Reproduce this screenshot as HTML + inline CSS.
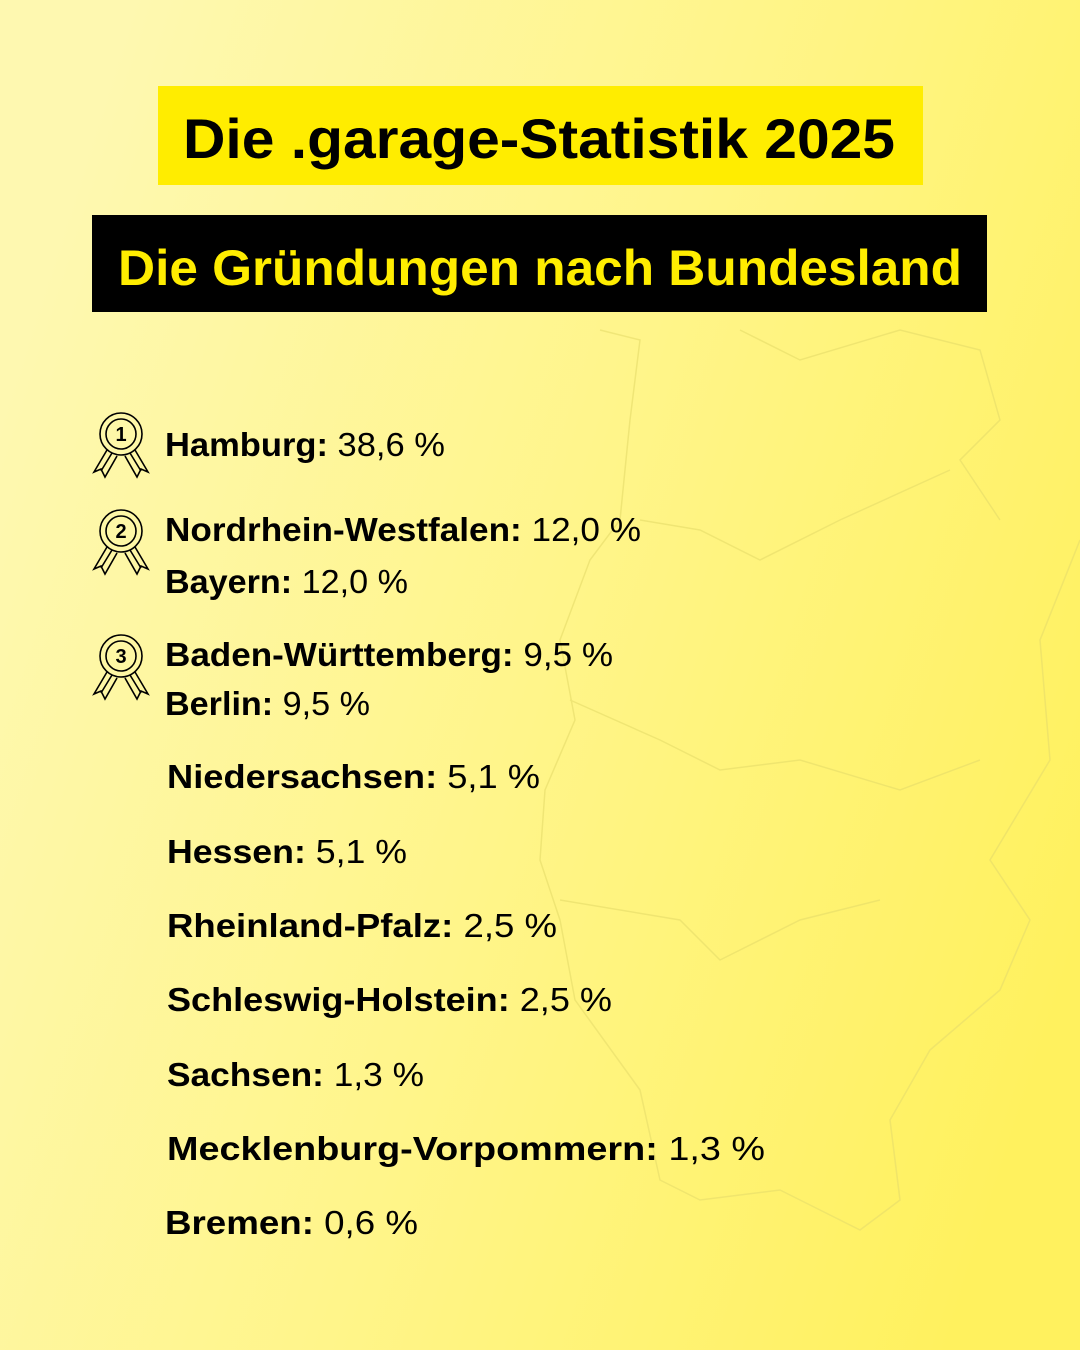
<!DOCTYPE html>
<html><head><meta charset="utf-8"><style>
html,body{margin:0;padding:0;width:1080px;height:1350px;overflow:hidden}
svg{display:block}
text{font-family:"Liberation Sans",sans-serif;fill:#000}
</style></head><body>
<svg width="1080" height="1350" viewBox="0 0 1080 1350" xmlns="http://www.w3.org/2000/svg">
<defs>
<linearGradient id="bg" x1="0" y1="0.3" x2="1" y2="0.7">
<stop offset="0" stop-color="#fef8b0"/>
<stop offset="0.5" stop-color="#fff58a"/>
<stop offset="1" stop-color="#fff15e"/>
</linearGradient>
<g id="medal" fill="none" stroke="#000" stroke-width="1.6">
<circle cx="0" cy="0" r="21"/>
<circle cx="0" cy="0" r="15"/>
<path d="M-14,16 L-27,38 L-20,35 L-16,43 L-4,22"/>
<path d="M14,16 L27,38 L20,35 L16,43 L4,22"/>
<path d="M-9,19 L-20,37 M9,19 L20,37"/>
</g>
</defs>
<rect width="1080" height="1350" fill="url(#bg)"/>
<g fill="none" stroke="#e6dc6a" stroke-width="1.5" opacity="0.6">
<path d="M600,330 L640,340 L630,420 L620,520 L590,560 L560,640 L575,720 L545,790 L540,860 L560,920 L575,1000 L640,1090 L660,1180 L700,1200 L780,1190 L860,1230 L900,1200 L890,1120 L930,1050 L1000,990 L1030,920 L990,860 L1050,760 L1040,640 L1080,540"/>
<path d="M740,330 L800,360 L900,330 L980,350 L1000,420 L960,460 L1000,520"/>
<path d="M640,520 L700,530 L760,560 L840,520 L950,470"/>
<path d="M570,700 L660,740 L720,770 L800,760 L900,790 L980,760"/>
<path d="M560,900 L680,920 L720,960 L800,920 L880,900"/>
</g>
<rect x="158" y="86" width="765" height="99" fill="#ffed00"/>
<text x="183" y="158" font-size="56" font-weight="bold" textLength="712" lengthAdjust="spacingAndGlyphs">Die .garage-Statistik 2025</text>
<rect x="92" y="215" width="895" height="97" fill="#000"/>
<text x="118" y="285" font-size="50" font-weight="bold" style="fill:#ffed00" textLength="844" lengthAdjust="spacingAndGlyphs">Die Gründungen nach Bundesland</text>
<use href="#medal" x="121" y="434"/>
<use href="#medal" x="121" y="531"/>
<use href="#medal" x="121" y="656"/>
<g font-size="33">
<text x="165" y="456" textLength="280" lengthAdjust="spacingAndGlyphs"><tspan font-weight="bold">Hamburg:</tspan> 38,6 %</text>
<text x="165" y="541" textLength="476" lengthAdjust="spacingAndGlyphs"><tspan font-weight="bold">Nordrhein-Westfalen:</tspan> 12,0 %</text>
<text x="165" y="593" textLength="243" lengthAdjust="spacingAndGlyphs"><tspan font-weight="bold">Bayern:</tspan> 12,0 %</text>
<text x="165" y="666" textLength="448" lengthAdjust="spacingAndGlyphs"><tspan font-weight="bold">Baden-Württemberg:</tspan> 9,5 %</text>
<text x="165" y="715" textLength="205" lengthAdjust="spacingAndGlyphs"><tspan font-weight="bold">Berlin:</tspan> 9,5 %</text>
<text x="167" y="788" textLength="373" lengthAdjust="spacingAndGlyphs"><tspan font-weight="bold">Niedersachsen:</tspan> 5,1 %</text>
<text x="167" y="863" textLength="240" lengthAdjust="spacingAndGlyphs"><tspan font-weight="bold">Hessen:</tspan> 5,1 %</text>
<text x="167" y="937" textLength="390" lengthAdjust="spacingAndGlyphs"><tspan font-weight="bold">Rheinland-Pfalz:</tspan> 2,5 %</text>
<text x="167" y="1011" textLength="445" lengthAdjust="spacingAndGlyphs"><tspan font-weight="bold">Schleswig-Holstein:</tspan> 2,5 %</text>
<text x="167" y="1086" textLength="257" lengthAdjust="spacingAndGlyphs"><tspan font-weight="bold">Sachsen:</tspan> 1,3 %</text>
<text x="167" y="1160" textLength="598" lengthAdjust="spacingAndGlyphs"><tspan font-weight="bold">Mecklenburg-Vorpommern:</tspan> 1,3 %</text>
<text x="165" y="1234" textLength="253" lengthAdjust="spacingAndGlyphs"><tspan font-weight="bold">Bremen:</tspan> 0,6 %</text>
</g>
<g font-size="20" font-weight="bold" text-anchor="middle">
<text x="121" y="441">1</text>
<text x="121" y="538">2</text>
<text x="121" y="663">3</text>
</g>
</svg>
</body></html>
